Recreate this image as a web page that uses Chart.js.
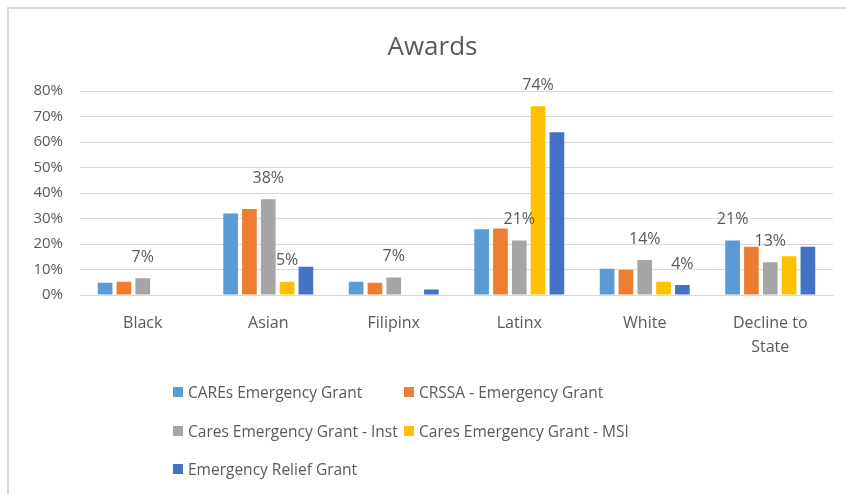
<!DOCTYPE html>
<html lang="en">
  <head>
    <meta charset="UTF-8" />
    <title>Awards</title>
    <style>
      body {
        margin: 0;
        background-color: #ffffff;
        font-family: "Open Sans", Arial, sans-serif;
      }
      .wrap {
        position: relative;
        width: 846px;
        height: 494px;
      }
      .frame {
        position: absolute;
        left: 7px;
        top: 7px;
        right: 0;
        bottom: 0;
        border-top: 2px solid #d9d9d9;
        border-left: 2px solid #d9d9d9;
      }
      #legend {
        position: absolute;
        left: 173px;
        top: 380px;
        display: grid;
        grid-template-columns: 231px auto;
        grid-auto-rows: 38.5px;
        font-size: 15.5px;
        color: #595959;
        white-space: nowrap;
      }
      #legend div {
        display: flex;
        align-items: center;
        height: 24px;
      }
      #legend span.box {
        width: 10px;
        height: 10px;
        margin-right: 5px;
      }
    </style>
    <script src="https://cdn.jsdelivr.net/npm/chart.js"></script>
  </head>
  <body>
    <div class="wrap">
      <div class="frame"></div>
      <canvas id="myChart" width="846" height="494"></canvas>
      <div id="legend"></div>
    </div>
    <script>
      const categories = ["Black", "Asian", "Filipinx", "Latinx", "White", ["Decline to", "State"]];
      const seriesNames = [
        "CAREs Emergency Grant",
        "CRSSA - Emergency Grant",
        "Cares Emergency Grant - Inst",
        "Cares Emergency Grant - MSI",
        "Emergency Relief Grant"
      ];
      const colors = ["#5b9bd5", "#ed7d31", "#a5a5a5", "#ffc000", "#4472c4"];

      // percent values
      const caresGrant = [4.8, 32.0, 5.2, 25.8, 10.3, 21.4];
      const crssaGrant = [5.2, 33.8, 4.8, 26.1, 9.9, 18.9];
      const instGrant = [6.6, 37.6, 6.9, 21.4, 13.7, 12.9];
      const msiGrant = [0, 5.2, 0, 74.1, 5.2, 15.2];
      const reliefGrant = [0, 11.1, 2.2, 63.9, 3.9, 18.9];

      // the few value labels shown on the chart
      const caresLabels = ["", "", "", "", "", "21%"];
      const crssaLabels = ["", "", "", "", "", ""];
      const instLabels = ["7%", "38%", "7%", "21%", "14%", "13%"];
      const msiLabels = ["", "5%", "", "74%", "", ""];
      const reliefLabels = ["", "", "", "", "4%", ""];

      const yTicks = [0, 10, 20, 30, 40, 50, 60, 70, 80];

      const values = [caresGrant, crssaGrant, instGrant, msiGrant, reliefGrant];
      const barLabels = [caresLabels, crssaLabels, instLabels, msiLabels, reliefLabels];

      const textColor = "#595959";
      const fontFamily = '"Open Sans", Arial, sans-serif';

      const barValueLabels = {
        id: "barValueLabels",
        afterDatasetsDraw(chart) {
          const ctx = chart.ctx;
          ctx.save();
          ctx.font = "16px " + fontFamily;
          ctx.fillStyle = textColor;
          ctx.textAlign = "center";
          ctx.textBaseline = "middle";
          chart.data.datasets.forEach((ds, i) => {
            chart.getDatasetMeta(i).data.forEach((bar, j) => {
              const txt = barLabels[i][j];
              if (txt) ctx.fillText(txt, bar.x, bar.y - 21);
            });
          });
          ctx.restore();
        }
      };

      const config = {
        type: "bar",
        data: {
          labels: categories,
          datasets: seriesNames.map((name, i) => ({
            label: name,
            data: values[i],
            backgroundColor: colors[i],
            categoryPercentage: 0.75,
            barPercentage: 0.78
          }))
        },
        options: {
          responsive: false,
          animation: false,
          layout: {
            padding: { left: 32, right: 13, top: 0, bottom: 129 }
          },
          plugins: {
            legend: { display: false },
            tooltip: { enabled: false },
            title: {
              display: true,
              text: "Awards",
              color: textColor,
              font: { family: fontFamily, size: 26, weight: "normal" },
              padding: { top: 32, bottom: 28 }
            }
          },
          scales: {
            x: {
              grid: { display: false },
              border: { color: "#d9d9d9", width: 1 },
              ticks: {
                color: textColor,
                padding: 8,
                font: { family: fontFamily, size: 16, lineHeight: 1.5 }
              },
              afterFit(scale) {
                scale.height = 70;
              }
            },
            y: {
              min: 0,
              max: 80,
              afterBuildTicks(scale) {
                scale.ticks = yTicks.map((v) => ({ value: v }));
              },
              grid: { color: "#d9d9d9", lineWidth: 1, drawTicks: false },
              border: { display: false },
              ticks: {
                color: textColor,
                padding: 17,
                font: { family: fontFamily, size: 15 },
                callback: (v) => v + "%"
              },
              afterFit(scale) {
                scale.width = 48;
              }
            }
          }
        },
        plugins: [barValueLabels]
      };

      const myChart = new Chart(document.getElementById("myChart"), config);

      // legend laid out in two columns like the original
      const legend = document.getElementById("legend");
      myChart.data.datasets.forEach((ds) => {
        const item = document.createElement("div");
        const box = document.createElement("span");
        box.className = "box";
        box.style.background = ds.backgroundColor;
        item.appendChild(box);
        item.appendChild(document.createTextNode(ds.label));
        legend.appendChild(item);
      });
    </script>
  </body>
</html>
